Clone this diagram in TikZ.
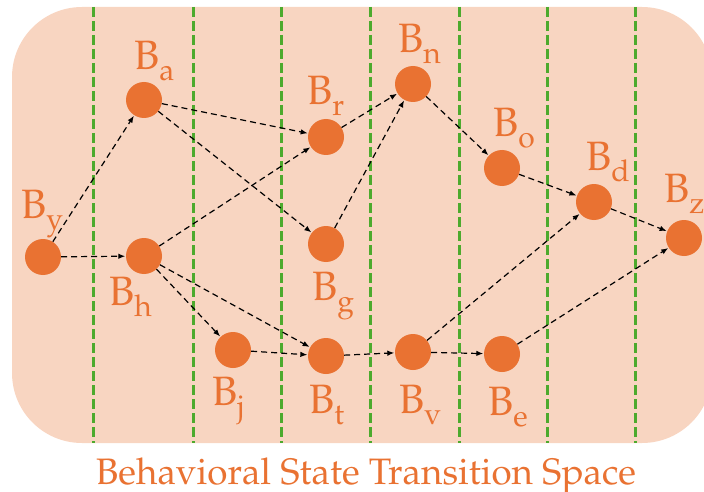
\documentclass[tikz,border=0pt]{standalone}
\usepackage[T1]{fontenc}
\usepackage{mathpazo}
\usetikzlibrary{arrows.meta}
\definecolor{bgc}{RGB}{248,213,193}
\definecolor{orc}{RGB}{233,114,50}
\definecolor{grc}{RGB}{77,170,45}
\newcommand{\blbl}[1]{B\raisebox{-11pt}{\fontsize{30}{30}\selectfont #1}}
\tikzset{
  stnode/.style={circle,fill=orc,minimum size=36pt,inner sep=0pt},
  lbl/.style={anchor=base west,inner sep=0pt,text=orc,font=\fontsize{41}{41}\selectfont},
  edge/.style={draw=black,line width=1.2pt,dash pattern=on 6pt off 4pt,-{Latex[length=7pt,width=5.5pt]},shorten >=0.5pt},
  sep/.style={draw=grc,line width=3pt,dash pattern=on 10pt off 4pt}
}
\begin{document}
\begin{tikzpicture}[x=1pt,y=-1pt]
\useasboundingbox (0,0) rectangle (704,492);
\fill[bgc,rounded corners=70pt] (12,7) rectangle (712,443);
\foreach \xx in {93,193,281,370,459,547,635}{
  \draw[sep] (\xx,7) -- (\xx,443);
}
\node[stnode] (by) at (43,257) {};
\node[stnode] (ba) at (144,100) {};
\node[stnode] (bh) at (144,256) {};
\node[stnode] (br) at (326,137) {};
\node[stnode] (bg) at (326,244) {};
\node[stnode] (bj) at (233,350) {};
\node[stnode] (bt) at (326,356) {};
\node[stnode] (bn) at (413,84) {};
\node[stnode] (bo) at (502,168) {};
\node[stnode] (bd) at (594,202) {};
\node[stnode] (bz) at (684,238) {};
\node[stnode] (bv) at (413,352) {};
\node[stnode] (be) at (502,354) {};
\node[lbl] (lby) at (21,218) {\blbl{y}};
\node[lbl] (lba) at (134,70) {\blbl{a}};
\node[lbl] (lbr) at (307,105) {\blbl{r}};
\node[lbl] (lbn) at (398,53) {\blbl{n}};
\node[lbl] (lbo) at (493,137) {\blbl{o}};
\node[lbl] (lbd) at (586,170) {\blbl{d}};
\node[lbl] (lbz) at (664,202) {\blbl{z}};
\node[lbl] (lbh) at (109,305) {\blbl{h}};
\node[lbl] (lbg) at (312,300) {\blbl{g}};
\node[lbl] (lbj) at (212,405) {\blbl{j}};
\node[lbl] (lbt) at (309,413) {\blbl{t}};
\node[lbl] (lbv) at (399,413) {\blbl{v}};
\node[lbl] (lbe) at (488,415) {\blbl{e}};
\draw[edge] (by) -- (ba);
\draw[edge] (by) -- (bh);
\draw[edge] (ba) -- (br);
\draw[edge] (ba) -- (bg);
\draw[edge] (bh) -- (br);
\draw[edge] (bh) -- (bj);
\draw[edge] (bh) -- (bt);
\draw[edge] (bj) -- (bt);
\draw[edge] (bg) -- (bn);
\draw[edge] (br) -- (bn);
\draw[edge] (bn) -- (bo);
\draw[edge] (bo) -- (bd);
\draw[edge] (bd) -- (bz);
\draw[edge] (bt) -- (bv);
\draw[edge] (bv) -- (be);
\draw[edge] (bv) -- (bd);
\draw[edge] (be) -- (bz);
\node[anchor=base,inner sep=0pt,text=orc,font=\fontsize{36.8}{36.8}\selectfont] (title) at (366,484) {Behavioral State Transition Space};
\end{tikzpicture}
\end{document}
